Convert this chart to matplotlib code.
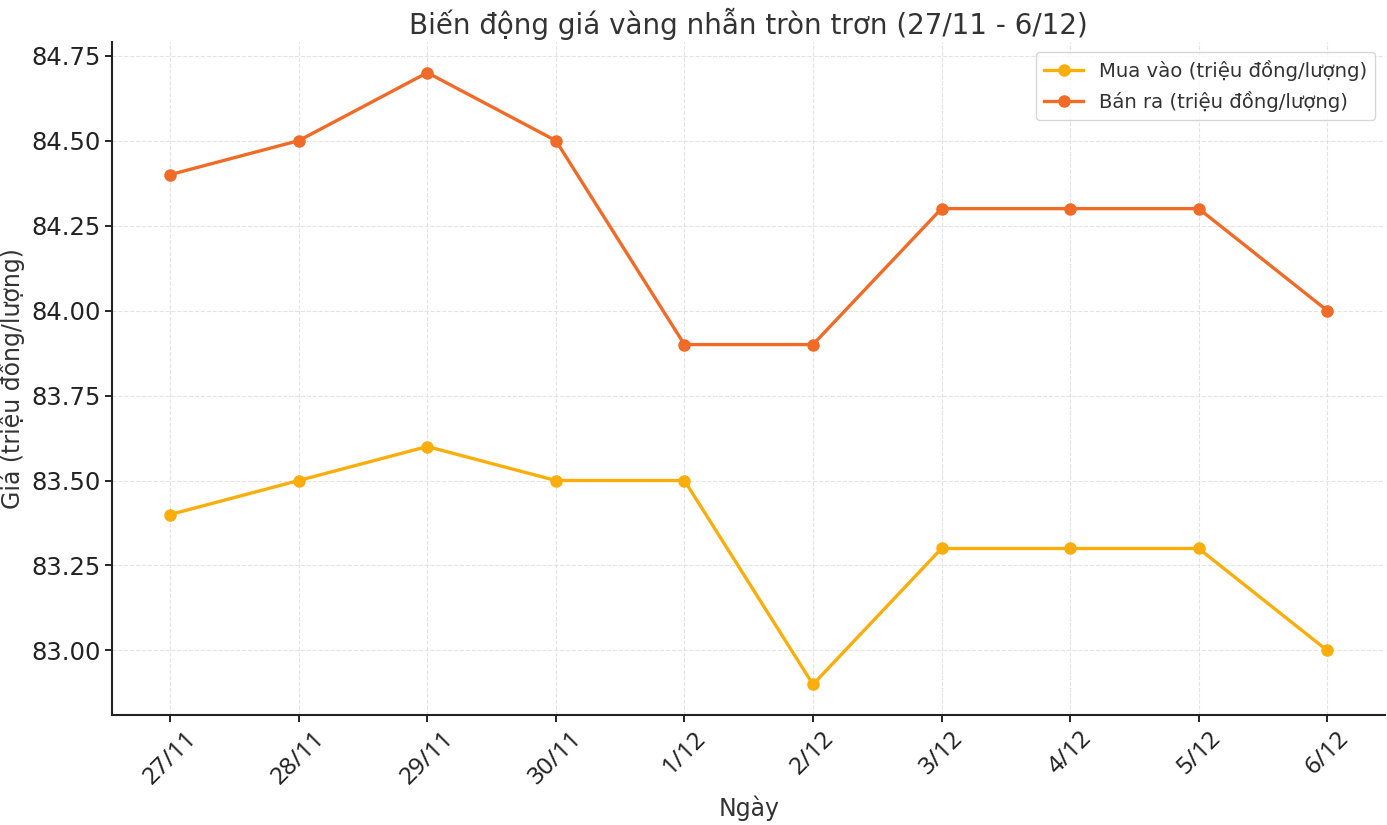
import matplotlib.pyplot as plt

# dữ liệu giá vàng nhẫn tròn trơn
ngay = ['27/11', '28/11', '29/11', '30/11', '1/12', '2/12', '3/12', '4/12', '5/12', '6/12']
mua_vao = [83.4, 83.5, 83.6, 83.5, 83.5, 82.9, 83.3, 83.3, 83.3, 83.0]
ban_ra = [84.4, 84.5, 84.7, 84.5, 83.9, 83.9, 84.3, 84.3, 84.3, 84.0]

plt.rcParams['font.family'] = ['DejaVu Sans']

fig, ax = plt.subplots(figsize=(13.87, 8.25), dpi=100)

x = range(len(ngay))
ax.plot(x, mua_vao, '-o', color='#F9AE0C', linewidth=2.4, markersize=8,
        label='Mua vào (triệu đồng/lượng)')
ax.plot(x, ban_ra, '-o', color='#EF6B27', linewidth=2.4, markersize=8,
        label='Bán ra (triệu đồng/lượng)')

ax.set_xticks(list(x))
ax.set_xticklabels(ngay, rotation=45, fontsize=17.5, color='#222222',
                   family=['Noto Sans', 'DejaVu Sans'])
ax.tick_params(axis='y', labelsize=17.5, labelcolor='#222222')
ax.tick_params(length=5, width=1.2)
ax.yaxis.set_major_formatter(plt.FormatStrFormatter('%.2f'))

ax.set_title('Biến động giá vàng nhẫn tròn trơn (27/11 - 6/12)', fontsize=20, color='#333333')
ax.set_xlabel('Ngày', fontsize=17, color='#333333')
ax.set_ylabel('Giá (triệu đồng/lượng)', fontsize=17, color='#333333')

ax.grid(True, linestyle='--', color='#dddddd', linewidth=0.8, alpha=0.8)
for s in ['top', 'right']:
    ax.spines[s].set_visible(False)
ax.spines['left'].set_linewidth(1.5)
ax.spines['bottom'].set_linewidth(1.5)
ax.spines['left'].set_color('#222222')
ax.spines['bottom'].set_color('#222222')

leg = ax.legend(loc='upper right', fontsize=14.2)
for t in leg.get_texts():
    t.set_color('#333333')

plt.subplots_adjust(left=0.081, right=0.9986, top=0.949, bottom=0.1333)
plt.savefig('out.png', dpi=100)
plt.close()
